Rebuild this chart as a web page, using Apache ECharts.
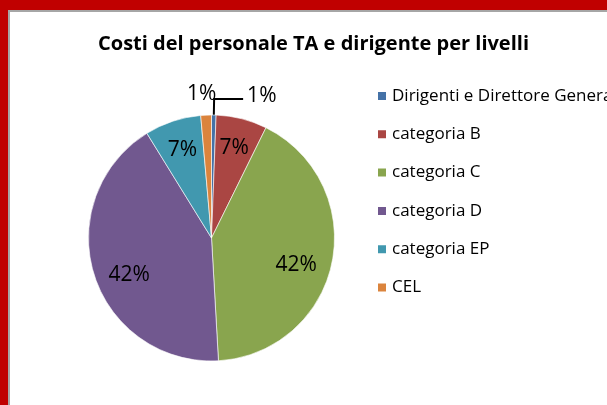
<!DOCTYPE html>
<html>
<head>
<meta charset="utf-8">
<title>Costi del personale TA e dirigente per livelli</title>
<script src="https://cdn.jsdelivr.net/npm/echarts@6/dist/echarts.min.js"></script>
<style>
    html, body { margin: 0; padding: 0; background: #fff; }
    #wrap { position: relative; width: 607px; height: 405px; overflow: hidden; }
    #chart { position: absolute; left: 0; top: 0; width: 607px; height: 405px; }
    /* red sheet frame around the chart */
    .frame {
        position: absolute; left: 0; top: 0; width: 607px; height: 405px;
        box-sizing: border-box; pointer-events: none;
        border-top: 10px solid #c00000; border-left: 8px solid #c00000;
    }
    .frame::after {
        content: ''; position: absolute; left: 0; top: 0; right: 0; bottom: 0;
        border-top: 2px solid #a6a6a6; border-left: 2px solid #a6a6a6;
    }
</style>
</head>
<body>
<div id="wrap">
    <div id="chart"></div>
    <div class="frame"></div>
</div>
<script>
// Data
const titleText = 'Costi del personale TA e dirigente per livelli';
const categories = ['Dirigenti e Direttore Generale', 'categoria B', 'categoria C', 'categoria D', 'categoria EP', 'CEL'];
const shares = [0.6, 6.7, 41.8, 42.1, 7.4, 1.4];
const colors = ['#4572A7', '#AA4643', '#89A54E', '#71588F', '#4198AF', '#DB843D'];

const font = '"Open Sans", Lato, sans-serif';
const center = [211.5, 238];
const radius = 123;

// small slices get their label outside, the rest inside
const isSmall = v => v < 2;
const pctLabel = p => Math.round(p.percent) + '%';

const mainData = categories.map((name, i) => ({
    name: name,
    value: shares[i],
    label: {show: isSmall(shares[i])},
    labelLine: {show: i === 0}
}));

const innerLabelData = categories.map((name, i) => ({
    name: name,
    value: shares[i],
    label: {show: !isSmall(shares[i])}
}));

const chartDom = document.getElementById('chart');
const myChart = echarts.init(chartDom);

const option = {
    backgroundColor: '#fff',
    color: colors,
    animation: false,
    title: {
        text: titleText,
        left: 98,
        top: 34,
        padding: 0,
        textStyle: {
            fontFamily: font,
            fontSize: 20,
            fontWeight: 'bold',
            color: '#000'
        }
    },
    legend: {
        orient: 'vertical',
        left: 376,
        top: 86,
        padding: 0,
        itemWidth: 10,
        itemHeight: 10,
        itemGap: 18.3,
        icon: 'rect',
        selectedMode: false,
        data: categories,
        textStyle: {
            fontFamily: font,
            fontSize: 17,
            lineHeight: 20,
            color: '#000'
        }
    },
    series: [
        {
            name: 'Costi',
            type: 'pie',
            center: center,
            radius: radius,
            startAngle: 90,
            clockwise: true,
            avoidLabelOverlap: false,
            data: mainData,
            itemStyle: {
                borderColor: '#ffffff',
                borderWidth: 0.6
            },
            label: {
                position: 'outside',
                formatter: pctLabel,
                fontFamily: font,
                fontSize: 21,
                color: '#000',
                distanceToLabelLine: 4
            },
            labelLine: {
                length: 16,
                length2: 29,
                lineStyle: {color: '#000', width: 2}
            },
            labelLayout: function (params) {
                // CEL label sits right above its slice in the original
                if (params.dataIndex === 5) {
                    return {dx: 44, dy: -5};
                }
                if (params.dataIndex === 0) {
                    return {dy: -3};
                }
                return {};
            },
            emphasis: {disabled: true}
        },
        {
            // transparent ring only used to place the inner labels farther out
            name: 'labels',
            type: 'pie',
            center: center,
            radius: [56, radius],
            startAngle: 90,
            clockwise: true,
            silent: true,
            data: innerLabelData,
            itemStyle: {color: 'rgba(0,0,0,0)'},
            label: {
                position: 'inside',
                formatter: pctLabel,
                fontFamily: font,
                fontSize: 21,
                color: '#000'
            },
            labelLine: {show: false},
            labelLayout: function (params) {
                // the two big labels sit a little lower and closer in
                if (shares[params.dataIndex] > 20) {
                    const r = params.labelRect;
                    const toCenter = r.x + r.width / 2 < center[0] ? 6 : -6;
                    return {dx: toCenter, dy: 9};
                }
                return {};
            },
            emphasis: {disabled: true}
        }
    ]
};

myChart.setOption(option);

window.addEventListener('resize', function () {
    myChart.resize();
});
</script>
</body>
</html>
